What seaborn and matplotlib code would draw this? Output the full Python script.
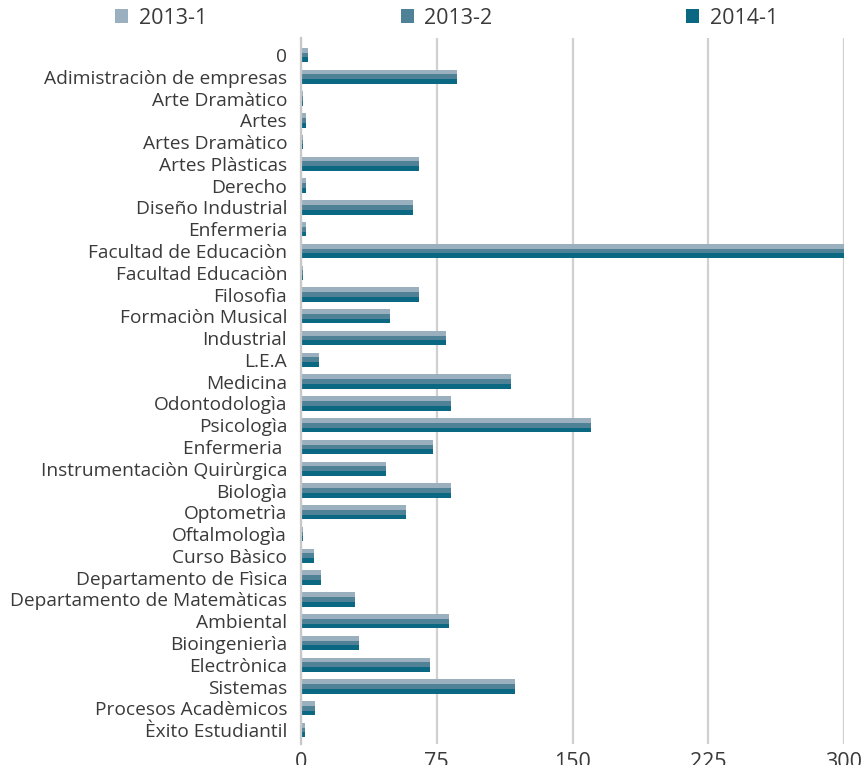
import matplotlib
matplotlib.use("Agg")
import matplotlib.pyplot as plt
import seaborn as sns
import pandas as pd

categories = ["0", "Adimistraciòn de empresas", "Arte Dramàtico", "Artes", "Artes Dramàtico",
              "Artes Plàsticas", "Derecho", "Diseño Industrial", "Enfermeria",
              "Facultad de Educaciòn", "Facultad Educaciòn", "Filosofìa", "Formaciòn Musical",
              "Industrial", "L.E.A", "Medicina", "Odontodologìa", "Psicologìa", "Enfermeria ",
              "Instrumentaciòn Quirùrgica", "Biologìa", "Optometrìa", "Oftalmologìa",
              "Curso Bàsico", "Departamento de Fìsica", "Departamento de Matemàticas",
              "Ambiental", "Bioingenierìa", "Electrònica", "Sistemas", "Procesos Acadèmicos",
              "Èxito Estudiantil"]
s2013_1 = [4, 86, 1, 3, 1, 65, 3, 62, 3, 300, 1, 65, 49, 80, 10, 116, 83, 160, 73,
           47, 83, 58, 1, 7, 11, 30, 82, 32, 71, 118, 8, 2]
s2013_2 = [4, 86, 1, 3, 1, 65, 3, 62, 3, 300, 1, 65, 49, 80, 10, 116, 83, 160, 73,
           47, 83, 58, 1, 7, 11, 30, 82, 32, 71, 118, 8, 2]
s2014_1 = [4, 86, 1, 3, 1, 65, 3, 62, 3, 300, 1, 65, 49, 80, 10, 116, 83, 160, 73,
           47, 83, 58, 1, 7, 11, 30, 82, 32, 71, 118, 8, 2]
series = ["2013-1", "2013-2", "2014-1"]
colors = ["#9BB0BF", "#508297", "#0B6882"]
xticks = [0, 75, 150, 225, 300]

rows = []
for name, vals in zip(series, [s2013_1, s2013_2, s2014_1]):
    for c, v in zip(categories, vals):
        rows.append({"cat": c, "val": v, "serie": name})
df = pd.DataFrame(rows)

sns.set_theme(style="white")
plt.rcParams["font.family"] = ["Open Sans", "DejaVu Sans"]
txt = "#3a3a3a"

fig = plt.figure(figsize=(8.62, 7.65), dpi=100)
ax = fig.add_axes([301/862, 1-744/765, 543/862, 706/765])
sns.barplot(data=df, y="cat", x="val", hue="serie", order=categories,
            hue_order=series, palette=colors, width=0.66, orient="h",
            ax=ax, saturation=1, legend=False, edgecolor="none", linewidth=0)

ax.set_xlim(0, 300)
ax.set_ylim(31.64, -0.78)
ax.set_xticks(xticks)
ax.set_xticklabels([str(t) for t in xticks])
ax.set_xlabel("")
ax.set_ylabel("")
ax.xaxis.grid(True, color="#d0d0d0", linewidth=1.6)
ax.yaxis.grid(False)
ax.set_axisbelow(True)
for s in ["top", "right", "bottom"]:
    ax.spines[s].set_visible(False)
ax.spines["left"].set_color("#c8c8c8")
ax.spines["left"].set_linewidth(1.6)
ax.tick_params(axis="y", length=0, pad=10, labelsize=13.8, labelcolor=txt)
ax.tick_params(axis="x", length=0, pad=6, labelsize=15.5, labelcolor=txt)

from matplotlib.patches import Patch
handles = [Patch(facecolor=c, edgecolor="none") for c in colors]
leg = fig.legend(handles, series, ncol=3, loc="center", bbox_to_anchor=(0.518, 0.976),
                 frameon=False, fontsize=15.5, handlelength=0.6, handleheight=0.6,
                 handletextpad=0.5, columnspacing=9.0, labelcolor=txt)

fig.savefig("out.png", dpi=100)
